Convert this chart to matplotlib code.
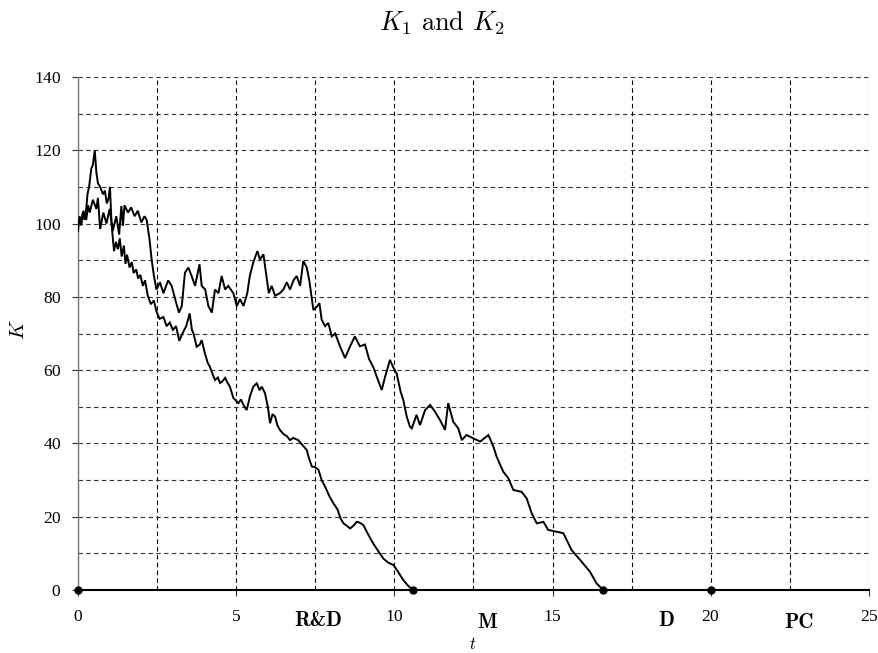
import matplotlib
matplotlib.use("Agg")
import matplotlib.pyplot as plt
import matplotlib.transforms as mtrans
import numpy as np

# K path that peaks near 120 early and hits zero first
t_b = [0, 0.05, 0.1, 0.15, 0.2, 0.26, 0.3, 0.35, 0.42, 0.47, 0.53, 0.58, 0.63, 0.7,
       0.79, 0.85, 0.91, 0.97, 1.01, 1.06, 1.1, 1.14, 1.2, 1.26, 1.32, 1.38, 1.45,
       1.5, 1.55, 1.63, 1.7, 1.76, 1.84, 1.9, 1.97, 2.05, 2.12, 2.2, 2.3, 2.4, 2.48,
       2.58, 2.7, 2.8, 2.9, 3.0, 3.1, 3.2, 3.3, 3.42, 3.53, 3.6, 3.65, 3.75, 3.85,
       3.91, 4.01, 4.1, 4.17, 4.25, 4.33, 4.42, 4.49, 4.57, 4.65, 4.73, 4.8, 4.91,
       5.01, 5.07, 5.15, 5.23, 5.33, 5.44, 5.54, 5.65, 5.74, 5.81, 5.91, 6.0, 6.07,
       6.15, 6.23, 6.3, 6.38, 6.5, 6.6, 6.7, 6.8, 6.96, 7.1, 7.23, 7.3, 7.39, 7.5,
       7.6, 7.7, 7.81, 7.95, 8.07, 8.2, 8.3, 8.39, 8.5, 8.6, 8.7, 8.81, 8.9, 9.02,
       9.15, 9.33, 9.5, 9.65, 9.8, 9.97, 10.1, 10.28, 10.45, 10.6, 25]
k_b = [100, 101, 99.5, 103, 101, 104, 108, 110, 115, 116, 120, 114, 111, 110,
       108, 109, 105.5, 107, 110, 100, 96, 92.5, 95, 93, 96, 91, 94,
       89, 91.5, 88, 89.5, 86.5, 87.5, 85, 86, 83, 84.5, 80.5, 78, 79, 76,
       74, 74.5, 72, 73, 71, 72, 68, 70, 72, 75.5, 71, 70, 66.4, 67,
       68.2, 64.6, 62, 60.9, 59, 57.3, 58, 56.5, 57, 57.9, 56.5, 55.5, 52.4,
       51.5, 51, 52, 50.5, 49.1, 53, 55.5, 56.4, 54.5, 55.5, 53.7, 50, 45.5,
       48, 47.3, 45, 43.7, 42.5, 42, 40.9, 41.5, 40.9, 39.5, 38.2, 36, 33.7, 33.5,
       32.8, 30, 28.2, 25.5, 23.7, 22, 19.5, 18.2, 17.5, 16.8, 17.5, 18.6, 18.4, 17.7,
       15.5, 12.7, 10.5, 8.6, 7.5, 6.8, 5.2, 2.7, 1, 0, 0]

# K path that stays near 100 longer and hits zero later
t_a = [0, 0.05, 0.1, 0.17, 0.26, 0.32, 0.37, 0.47, 0.58, 0.63, 0.7, 0.8, 0.9, 1.0,
       1.1, 1.21, 1.3, 1.37, 1.42, 1.47, 1.58, 1.68, 1.79, 1.89, 2.0, 2.1, 2.17,
       2.26, 2.33, 2.4, 2.48, 2.59, 2.7, 2.85, 2.96, 3.07, 3.19, 3.28, 3.38, 3.49,
       3.59, 3.7, 3.84, 3.91, 4.02, 4.12, 4.23, 4.33, 4.44, 4.54, 4.65, 4.75, 4.91,
       5.02, 5.12, 5.23, 5.35, 5.43, 5.54, 5.67, 5.75, 5.86, 5.94, 6.03, 6.12, 6.23,
       6.38, 6.49, 6.6, 6.7, 6.81, 6.91, 7.02, 7.12, 7.23, 7.31, 7.44, 7.55, 7.63,
       7.7, 7.81, 7.91, 8.02, 8.13, 8.28, 8.44, 8.6, 8.75, 8.91, 9.07, 9.2, 9.33,
       9.45, 9.6, 9.7, 9.86, 9.95, 10.07, 10.2, 10.28, 10.39, 10.49, 10.55, 10.7,
       10.81, 10.97, 11.13, 11.28, 11.44, 11.6, 11.7, 11.86, 12.02, 12.13, 12.28,
       12.49, 12.71, 12.97, 13.13, 13.23, 13.44, 13.6, 13.76, 14.02, 14.18, 14.34,
       14.5, 14.71, 14.86, 15.13, 15.34, 15.6, 15.87, 16.18, 16.39, 16.6, 25]
k_a = [98, 102, 100, 103.5, 101, 105, 103, 106.5, 104, 107, 98.5, 103, 100, 104,
       98, 102, 97, 104.8, 99.4, 105, 103, 104.4, 102, 103.5, 100.3, 102, 101,
       95.7, 90, 85.7, 82, 84, 81, 84.5, 83, 79.4, 75.7, 77.5, 86.6, 88,
       85.7, 83, 88.9, 83, 82, 77.5, 75.7, 82, 81, 85.7, 82, 83, 81,
       77.5, 79.4, 77.5, 81, 85.7, 89.4, 92.5, 90.2, 91.6, 86.6, 81, 83, 80.3,
       81, 82, 84, 82, 84.5, 85.7, 83, 89.8, 88, 84.5, 76.4, 77.3, 78.3,
       73.8, 72, 72.9, 69.2, 70, 66.5, 63.3, 66.5, 69.2, 66.5, 67, 63, 60.9,
       58, 54.6, 58, 62.8, 61, 59.1, 54, 51.9, 47.3, 44.6, 44.1, 47.8,
       45, 49.1, 50.5, 48.7, 46.4, 43.7, 51, 45.9, 44.1, 40.9, 42.3,
       41.4, 40.5, 42.3, 39.1, 36.4, 32.3, 30.5, 27.3, 26.8, 25, 20.9,
       18.2, 18.6, 16.4, 15.9, 15.5, 10.9, 8.2, 5, 1.8, 0, 0]

# points on the t axis
hit_t = [0, 10.6, 16.6, 20]
hit_k = [0, 0, 0, 0]

phase_labels = ["R&D", "M", "D", "PC"]

plt.rcParams["mathtext.fontset"] = "cm"
plt.rcParams["axes.formatter.use_mathtext"] = True

fig = plt.figure(figsize=(8.79, 6.53), dpi=100)
ax = fig.add_axes([78 / 879, 63 / 653, 791 / 879, 513 / 653])

ax.plot(t_a, k_a, color="black", lw=1.4, solid_joinstyle="miter", zorder=3)
ax.plot(t_b, k_b, color="black", lw=1.4, solid_joinstyle="miter", zorder=3)
ax.plot(hit_t, hit_k, "o", color="black", ms=5, clip_on=False, zorder=5)

ax.set_xlim(0, 25)
ax.set_ylim(0, 140)
ax.set_xticks(np.arange(0, 26, 5))
ax.set_xticks(np.arange(2.5, 25, 5), minor=True)
ax.set_yticks(np.arange(0, 141, 20))
ax.set_yticks(np.arange(10, 140, 20), minor=True)

ax.grid(True, which="both", axis="x", color="black", lw=0.8, ls=(0, (4, 3)))
ax.grid(True, which="both", axis="y", color="#333333", lw=0.8, ls=(0, (4, 3)))
ax.set_axisbelow(True)

for s in ["top", "right"]:
    ax.spines[s].set_visible(False)
ax.spines["left"].set_color("#777777")
ax.spines["left"].set_linewidth(1.0)
ax.spines["bottom"].set_color("black")
ax.spines["bottom"].set_linewidth(1.5)
ax.spines["bottom"].set_zorder(4)

ax.tick_params(which="major", direction="out", length=4, width=0.8,
               labelsize=12.5, color="#333333")
ax.tick_params(which="minor", length=0)
ax.tick_params(axis="x", pad=10)
ax.tick_params(axis="y", pad=8)
for lab in ax.get_xticklabels() + ax.get_yticklabels():
    lab.set_fontfamily("Liberation Serif")

# phase names under the t axis
trans = mtrans.blended_transform_factory(ax.transData, fig.transFigure)
phase_x = [7.6, 12.92, 18.6, 22.8]
phase_y = [1 - 620 / 653, 1 - 623 / 653, 1 - 620 / 653, 1 - 623 / 653]
for name, px, py in zip(phase_labels, phase_x, phase_y):
    ax.text(px, py, name, transform=trans, ha="center", va="center",
            fontsize=15, fontfamily="cmb10")

fig.text(473 / 879, 1 - 644 / 653, r"$t$", ha="center", va="center", fontsize=12)
fig.text(18 / 879, 1 - 330 / 653, r"$K$", ha="center", va="center",
         fontsize=15, rotation=90)
fig.text(442 / 879, 1 - 31 / 653, r"$K_1$ and $K_2$", ha="center", va="baseline",
         fontsize=19, fontfamily="cmr10")

fig.savefig("out.png", dpi=100)
